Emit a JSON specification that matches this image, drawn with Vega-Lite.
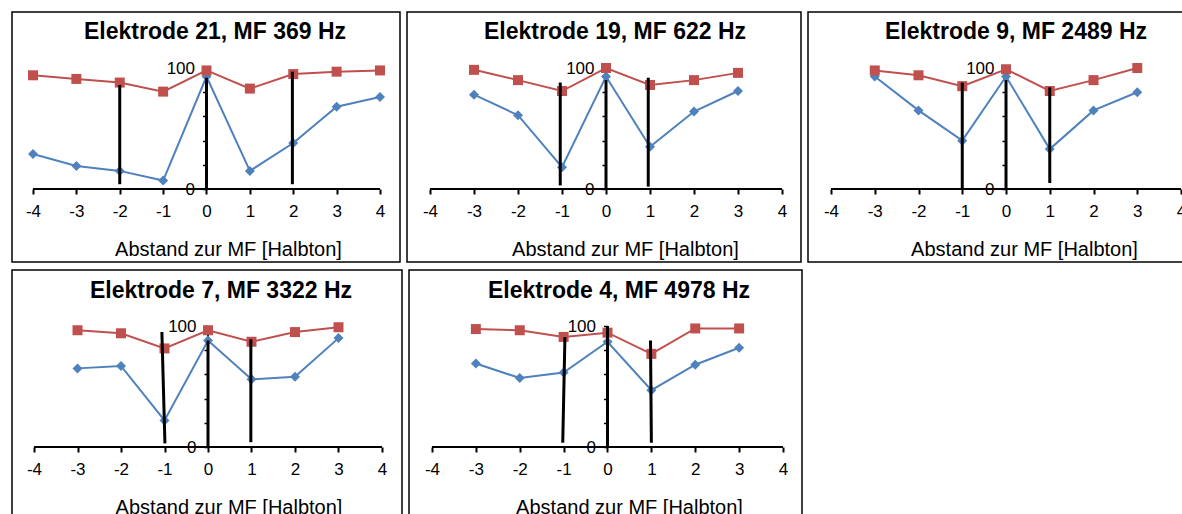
{
  "$schema": "https://vega.github.io/schema/vega-lite/v6.json",
  "padding": {"left": 11, "top": 11, "right": 0, "bottom": 0},
  "background": "white",
  "config": {
    "font": "Liberation Sans",
    "view": {"stroke": "#000", "strokeWidth": 1.5},
    "axis": {"labelFont": "Liberation Sans", "titleFont": "Liberation Sans", "labelColor": "#000", "titleColor": "#000", "grid": false, "domain": false, "labelFlush": false, "labelOverlap": false, "labelBound": false, "tickColor": "#000"},
    "title": {"font": "Liberation Sans", "fontSize": 23, "fontWeight": "bold", "color": "#000", "anchor": "middle", "baseline": "alphabetic"}
  },
  "datasets": {
    "pts": [
      {"panel": 1, "series": "Serie 1", "x": -4, "value": 29},
      {"panel": 1, "series": "Serie 1", "x": -3, "value": 19},
      {"panel": 1, "series": "Serie 1", "x": -2, "value": 15},
      {"panel": 1, "series": "Serie 1", "x": -1, "value": 7},
      {"panel": 1, "series": "Serie 1", "x": 0, "value": 93},
      {"panel": 1, "series": "Serie 1", "x": 1, "value": 15},
      {"panel": 1, "series": "Serie 1", "x": 2, "value": 38},
      {"panel": 1, "series": "Serie 1", "x": 3, "value": 68},
      {"panel": 1, "series": "Serie 1", "x": 4, "value": 76},
      {"panel": 1, "series": "Serie 2", "x": -4, "value": 94},
      {"panel": 1, "series": "Serie 2", "x": -3, "value": 91},
      {"panel": 1, "series": "Serie 2", "x": -2, "value": 88},
      {"panel": 1, "series": "Serie 2", "x": -1, "value": 80.5},
      {"panel": 1, "series": "Serie 2", "x": 0, "value": 98},
      {"panel": 1, "series": "Serie 2", "x": 1, "value": 83},
      {"panel": 1, "series": "Serie 2", "x": 2, "value": 95},
      {"panel": 1, "series": "Serie 2", "x": 3, "value": 97},
      {"panel": 1, "series": "Serie 2", "x": 4, "value": 98},
      {"panel": 2, "series": "Serie 1", "x": -3, "value": 78},
      {"panel": 2, "series": "Serie 1", "x": -2, "value": 61},
      {"panel": 2, "series": "Serie 1", "x": -1, "value": 18},
      {"panel": 2, "series": "Serie 1", "x": 0, "value": 93},
      {"panel": 2, "series": "Serie 1", "x": 1, "value": 35},
      {"panel": 2, "series": "Serie 1", "x": 2, "value": 64},
      {"panel": 2, "series": "Serie 1", "x": 3, "value": 81},
      {"panel": 2, "series": "Serie 2", "x": -3, "value": 98.5},
      {"panel": 2, "series": "Serie 2", "x": -2, "value": 90},
      {"panel": 2, "series": "Serie 2", "x": -1, "value": 81},
      {"panel": 2, "series": "Serie 2", "x": 0, "value": 100},
      {"panel": 2, "series": "Serie 2", "x": 1, "value": 86},
      {"panel": 2, "series": "Serie 2", "x": 2, "value": 90},
      {"panel": 2, "series": "Serie 2", "x": 3, "value": 96},
      {"panel": 3, "series": "Serie 1", "x": -3, "value": 93},
      {"panel": 3, "series": "Serie 1", "x": -2, "value": 65},
      {"panel": 3, "series": "Serie 1", "x": -1, "value": 40},
      {"panel": 3, "series": "Serie 1", "x": 0, "value": 93},
      {"panel": 3, "series": "Serie 1", "x": 1, "value": 33},
      {"panel": 3, "series": "Serie 1", "x": 2, "value": 65},
      {"panel": 3, "series": "Serie 1", "x": 3, "value": 80},
      {"panel": 3, "series": "Serie 2", "x": -3, "value": 98},
      {"panel": 3, "series": "Serie 2", "x": -2, "value": 94},
      {"panel": 3, "series": "Serie 2", "x": -1, "value": 85},
      {"panel": 3, "series": "Serie 2", "x": 0, "value": 99},
      {"panel": 3, "series": "Serie 2", "x": 1, "value": 81},
      {"panel": 3, "series": "Serie 2", "x": 2, "value": 90},
      {"panel": 3, "series": "Serie 2", "x": 3, "value": 100},
      {"panel": 4, "series": "Serie 1", "x": -3, "value": 65},
      {"panel": 4, "series": "Serie 1", "x": -2, "value": 67},
      {"panel": 4, "series": "Serie 1", "x": -1, "value": 22},
      {"panel": 4, "series": "Serie 1", "x": 0, "value": 88},
      {"panel": 4, "series": "Serie 1", "x": 1, "value": 56},
      {"panel": 4, "series": "Serie 1", "x": 2, "value": 58},
      {"panel": 4, "series": "Serie 1", "x": 3, "value": 90},
      {"panel": 4, "series": "Serie 2", "x": -3, "value": 96.5},
      {"panel": 4, "series": "Serie 2", "x": -2, "value": 94},
      {"panel": 4, "series": "Serie 2", "x": -1, "value": 81.5},
      {"panel": 4, "series": "Serie 2", "x": 0, "value": 96.5},
      {"panel": 4, "series": "Serie 2", "x": 1, "value": 87},
      {"panel": 4, "series": "Serie 2", "x": 2, "value": 95},
      {"panel": 4, "series": "Serie 2", "x": 3, "value": 99},
      {"panel": 5, "series": "Serie 1", "x": -3, "value": 69},
      {"panel": 5, "series": "Serie 1", "x": -2, "value": 57},
      {"panel": 5, "series": "Serie 1", "x": -1, "value": 61.5},
      {"panel": 5, "series": "Serie 1", "x": 0, "value": 87},
      {"panel": 5, "series": "Serie 1", "x": 1, "value": 47},
      {"panel": 5, "series": "Serie 1", "x": 2, "value": 68},
      {"panel": 5, "series": "Serie 1", "x": 3, "value": 82},
      {"panel": 5, "series": "Serie 2", "x": -3, "value": 97.5},
      {"panel": 5, "series": "Serie 2", "x": -2, "value": 96.5},
      {"panel": 5, "series": "Serie 2", "x": -1, "value": 91},
      {"panel": 5, "series": "Serie 2", "x": 0, "value": 94.5},
      {"panel": 5, "series": "Serie 2", "x": 1, "value": 77},
      {"panel": 5, "series": "Serie 2", "x": 2, "value": 98},
      {"panel": 5, "series": "Serie 2", "x": 3, "value": 98}
    ],
    "marks": [
      {"panel": 1, "x_top": -2, "x_bot": -2, "top": 86, "bottom": 4},
      {"panel": 1, "x_top": 0, "x_bot": 0, "top": 92, "bottom": 0},
      {"panel": 1, "x_top": 1.98, "x_bot": 1.98, "top": 97, "bottom": 4},
      {"panel": 2, "x_top": -1.04, "x_bot": -1.04, "top": 88, "bottom": 3},
      {"panel": 2, "x_top": 0, "x_bot": 0, "top": 90, "bottom": 0},
      {"panel": 2, "x_top": 0.96, "x_bot": 0.96, "top": 92, "bottom": 2},
      {"panel": 3, "x_top": -1, "x_bot": -1, "top": 88, "bottom": 0},
      {"panel": 3, "x_top": 0, "x_bot": 0, "top": 90, "bottom": 0},
      {"panel": 3, "x_top": 1, "x_bot": 1, "top": 84, "bottom": 5},
      {"panel": 4, "x_top": -1.06, "x_bot": -0.99, "top": 95, "bottom": 3},
      {"panel": 4, "x_top": 0, "x_bot": 0, "top": 88, "bottom": 0},
      {"panel": 4, "x_top": 0.985, "x_bot": 0.985, "top": 89, "bottom": 4},
      {"panel": 5, "x_top": -0.97, "x_bot": -1.02, "top": 91, "bottom": 3.5},
      {"panel": 5, "x_top": 0, "x_bot": 0, "top": 100, "bottom": 0},
      {"panel": 5, "x_top": 0.98, "x_bot": 1, "top": 88, "bottom": 3.5}
    ]
  },
  "vconcat": [
    {
      "spacing": 5,
      "hconcat": [
        {
          "width": 388, "height": 250,
          "title": {"text": "Elektrode 21, MF 369 Hz", "dx": 9, "offset": -32},
          "layer": [
            {"data": {"values": [{}]}, "mark": {"type": "rule", "color": "#000", "strokeWidth": 2},
             "encoding": {
               "x": {"datum": -4, "type": "quantitative", "scale": {"domain": [-4.484, 4.461], "nice": false, "zero": false},
                     "axis": {"orient": "bottom", "offset": -73, "values": [-4, -3, -2, -1, 0, 1, 2, 3, 4], "labelExpr": "toString(datum.value)", "tickSize": 5, "tickWidth": 2, "labelFontSize": 17, "labelPadding": 9, "title": "Abstand zur MF [Halbton]", "titleFontSize": 20, "titleFontWeight": "normal", "titleX": 216, "titleY": 66, "titleBaseline": "alphabetic"}},
               "x2": {"datum": 4},
               "y": {"datum": 0, "type": "quantitative", "scale": {"domain": [-60.3, 146.3], "nice": false, "zero": false},
                     "axis": {"orient": "left", "offset": -194.5, "values": [0, 20, 40, 60, 80, 100], "tickSize": 4, "tickWidth": 1.5, "labelFontSize": 17, "labelPadding": 8, "title": null, "labelExpr": "datum.value == 0 || datum.value == 100 ? datum.label : ''"}}}},
            {"data": {"values": [{}]}, "mark": {"type": "rule", "color": "#000", "strokeWidth": 2},
             "encoding": {"x": {"datum": 0, "type": "quantitative", "scale": {"domain": [-4.484, 4.461], "nice": false, "zero": false}}, "y": {"datum": 0, "type": "quantitative", "scale": {"domain": [-60.3, 146.3], "nice": false, "zero": false}}, "y2": {"datum": 100}}},
            {"data": {"name": "pts"}, "transform": [{"filter": "datum.panel == 1"}], "mark": {"type": "line", "strokeWidth": 2},
             "encoding": {
               "x": {"field": "x", "type": "quantitative", "scale": {"domain": [-4.484, 4.461], "nice": false, "zero": false}},
               "y": {"field": "value", "type": "quantitative", "scale": {"domain": [-60.3, 146.3], "nice": false, "zero": false}},
               "color": {"field": "series", "type": "nominal", "scale": {"domain": ["Serie 1", "Serie 2"], "range": ["#4F81BD", "#C0504D"]}, "legend": null}}},
            {"data": {"name": "pts"}, "transform": [{"filter": "datum.panel == 1"}], "mark": {"type": "point", "filled": true, "size": 100, "opacity": 1},
             "encoding": {
               "x": {"field": "x", "type": "quantitative", "scale": {"domain": [-4.484, 4.461], "nice": false, "zero": false}},
               "y": {"field": "value", "type": "quantitative", "scale": {"domain": [-60.3, 146.3], "nice": false, "zero": false}},
               "color": {"field": "series", "type": "nominal", "scale": {"domain": ["Serie 1", "Serie 2"], "range": ["#4F81BD", "#C0504D"]}, "legend": null},
               "shape": {"field": "series", "type": "nominal", "scale": {"domain": ["Serie 1", "Serie 2"], "range": ["diamond", "square"]}, "legend": null}}},
            {"data": {"name": "marks"}, "transform": [{"filter": "datum.panel == 1"}], "mark": {"type": "rule", "color": "#000", "strokeWidth": 3},
             "encoding": {
               "x": {"field": "x_top", "type": "quantitative", "scale": {"domain": [-4.484, 4.461], "nice": false, "zero": false}},
               "x2": {"field": "x_bot"},
               "y": {"field": "top", "type": "quantitative", "scale": {"domain": [-60.3, 146.3], "nice": false, "zero": false}},
               "y2": {"field": "bottom"}}}
          ]
        },
        {
          "width": 394, "height": 250,
          "title": {"text": "Elektrode 19, MF 622 Hz", "dx": 11, "offset": -32},
          "layer": [
            {"data": {"values": [{}]}, "mark": {"type": "rule", "color": "#000", "strokeWidth": 2},
             "encoding": {
               "x": {"datum": -4, "type": "quantitative", "scale": {"domain": [-4.523, 4.432], "nice": false, "zero": false},
                     "axis": {"orient": "bottom", "offset": -73, "values": [-4, -3, -2, -1, 0, 1, 2, 3, 4], "labelExpr": "toString(datum.value)", "tickSize": 5, "tickWidth": 2, "labelFontSize": 17, "labelPadding": 9, "title": "Abstand zur MF [Halbton]", "titleFontSize": 20, "titleFontWeight": "normal", "titleX": 218, "titleY": 66, "titleBaseline": "alphabetic"}},
               "x2": {"datum": 4},
               "y": {"datum": 0, "type": "quantitative", "scale": {"domain": [-60.3, 146.3], "nice": false, "zero": false},
                     "axis": {"orient": "left", "offset": -199, "values": [0, 20, 40, 60, 80, 100], "tickSize": 4, "tickWidth": 1.5, "labelFontSize": 17, "labelPadding": 8, "title": null, "labelExpr": "datum.value == 0 || datum.value == 100 ? datum.label : ''"}}}},
            {"data": {"values": [{}]}, "mark": {"type": "rule", "color": "#000", "strokeWidth": 2},
             "encoding": {"x": {"datum": 0, "type": "quantitative", "scale": {"domain": [-4.523, 4.432], "nice": false, "zero": false}}, "y": {"datum": 0, "type": "quantitative", "scale": {"domain": [-60.3, 146.3], "nice": false, "zero": false}}, "y2": {"datum": 100}}},
            {"data": {"name": "pts"}, "transform": [{"filter": "datum.panel == 2"}], "mark": {"type": "line", "strokeWidth": 2},
             "encoding": {
               "x": {"field": "x", "type": "quantitative", "scale": {"domain": [-4.523, 4.432], "nice": false, "zero": false}},
               "y": {"field": "value", "type": "quantitative", "scale": {"domain": [-60.3, 146.3], "nice": false, "zero": false}},
               "color": {"field": "series", "type": "nominal", "scale": {"domain": ["Serie 1", "Serie 2"], "range": ["#4F81BD", "#C0504D"]}, "legend": null}}},
            {"data": {"name": "pts"}, "transform": [{"filter": "datum.panel == 2"}], "mark": {"type": "point", "filled": true, "size": 100, "opacity": 1},
             "encoding": {
               "x": {"field": "x", "type": "quantitative", "scale": {"domain": [-4.523, 4.432], "nice": false, "zero": false}},
               "y": {"field": "value", "type": "quantitative", "scale": {"domain": [-60.3, 146.3], "nice": false, "zero": false}},
               "color": {"field": "series", "type": "nominal", "scale": {"domain": ["Serie 1", "Serie 2"], "range": ["#4F81BD", "#C0504D"]}, "legend": null},
               "shape": {"field": "series", "type": "nominal", "scale": {"domain": ["Serie 1", "Serie 2"], "range": ["diamond", "square"]}, "legend": null}}},
            {"data": {"name": "marks"}, "transform": [{"filter": "datum.panel == 2"}], "mark": {"type": "rule", "color": "#000", "strokeWidth": 3},
             "encoding": {
               "x": {"field": "x_top", "type": "quantitative", "scale": {"domain": [-4.523, 4.432], "nice": false, "zero": false}},
               "x2": {"field": "x_bot"},
               "y": {"field": "top", "type": "quantitative", "scale": {"domain": [-60.3, 146.3], "nice": false, "zero": false}},
               "y2": {"field": "bottom"}}}
          ]
        },
        {
          "width": 378, "height": 250,
          "title": {"text": "Elektrode 9, MF 2489 Hz", "dx": 19, "offset": -32},
          "layer": [
            {"data": {"values": [{}]}, "mark": {"type": "rule", "color": "#000", "strokeWidth": 2},
             "encoding": {
               "x": {"datum": -4, "type": "quantitative", "scale": {"domain": [-4.526, 4.114], "nice": false, "zero": false},
                     "axis": {"orient": "bottom", "offset": -73, "values": [-4, -3, -2, -1, 0, 1, 2, 3, 4], "labelExpr": "toString(datum.value)", "tickSize": 5, "tickWidth": 2, "labelFontSize": 17, "labelPadding": 9, "title": "Abstand zur MF [Halbton]", "titleFontSize": 20, "titleFontWeight": "normal", "titleX": 216, "titleY": 66, "titleBaseline": "alphabetic"}},
               "x2": {"datum": 4},
               "y": {"datum": 0, "type": "quantitative", "scale": {"domain": [-60.3, 146.3], "nice": false, "zero": false},
                     "axis": {"orient": "left", "offset": -198, "values": [0, 20, 40, 60, 80, 100], "tickSize": 4, "tickWidth": 1.5, "labelFontSize": 17, "labelPadding": 8, "title": null, "labelExpr": "datum.value == 0 || datum.value == 100 ? datum.label : ''"}}}},
            {"data": {"values": [{}]}, "mark": {"type": "rule", "color": "#000", "strokeWidth": 2},
             "encoding": {"x": {"datum": 0, "type": "quantitative", "scale": {"domain": [-4.526, 4.114], "nice": false, "zero": false}}, "y": {"datum": 0, "type": "quantitative", "scale": {"domain": [-60.3, 146.3], "nice": false, "zero": false}}, "y2": {"datum": 100}}},
            {"data": {"name": "pts"}, "transform": [{"filter": "datum.panel == 3"}], "mark": {"type": "line", "strokeWidth": 2},
             "encoding": {
               "x": {"field": "x", "type": "quantitative", "scale": {"domain": [-4.526, 4.114], "nice": false, "zero": false}},
               "y": {"field": "value", "type": "quantitative", "scale": {"domain": [-60.3, 146.3], "nice": false, "zero": false}},
               "color": {"field": "series", "type": "nominal", "scale": {"domain": ["Serie 1", "Serie 2"], "range": ["#4F81BD", "#C0504D"]}, "legend": null}}},
            {"data": {"name": "pts"}, "transform": [{"filter": "datum.panel == 3"}], "mark": {"type": "point", "filled": true, "size": 100, "opacity": 1},
             "encoding": {
               "x": {"field": "x", "type": "quantitative", "scale": {"domain": [-4.526, 4.114], "nice": false, "zero": false}},
               "y": {"field": "value", "type": "quantitative", "scale": {"domain": [-60.3, 146.3], "nice": false, "zero": false}},
               "color": {"field": "series", "type": "nominal", "scale": {"domain": ["Serie 1", "Serie 2"], "range": ["#4F81BD", "#C0504D"]}, "legend": null},
               "shape": {"field": "series", "type": "nominal", "scale": {"domain": ["Serie 1", "Serie 2"], "range": ["diamond", "square"]}, "legend": null}}},
            {"data": {"name": "marks"}, "transform": [{"filter": "datum.panel == 3"}], "mark": {"type": "rule", "color": "#000", "strokeWidth": 3},
             "encoding": {
               "x": {"field": "x_top", "type": "quantitative", "scale": {"domain": [-4.526, 4.114], "nice": false, "zero": false}},
               "x2": {"field": "x_bot"},
               "y": {"field": "top", "type": "quantitative", "scale": {"domain": [-60.3, 146.3], "nice": false, "zero": false}},
               "y2": {"field": "bottom"}}}
          ]
        }
      ]
    },
    {
      "spacing": 5,
      "hconcat": [
        {
          "width": 390, "height": 246,
          "title": {"text": "Elektrode 7, MF 3322 Hz", "dx": 14, "offset": -33},
          "layer": [
            {"data": {"values": [{}]}, "mark": {"type": "rule", "color": "#000", "strokeWidth": 2},
             "encoding": {
               "x": {"datum": -4, "type": "quantitative", "scale": {"domain": [-4.506, 4.46], "nice": false, "zero": false},
                     "axis": {"orient": "bottom", "offset": -69, "values": [-4, -3, -2, -1, 0, 1, 2, 3, 4], "labelExpr": "toString(datum.value)", "tickSize": 5, "tickWidth": 2, "labelFontSize": 17, "labelPadding": 9, "title": "Abstand zur MF [Halbton]", "titleFontSize": 20, "titleFontWeight": "normal", "titleX": 216.5, "titleY": 66, "titleBaseline": "alphabetic"}},
               "x2": {"datum": 4},
               "y": {"datum": 0, "type": "quantitative", "scale": {"domain": [-57, 146.3], "nice": false, "zero": false},
                     "axis": {"orient": "left", "offset": -196, "values": [0, 20, 40, 60, 80, 100], "tickSize": 4, "tickWidth": 1.5, "labelFontSize": 17, "labelPadding": 8, "title": null, "labelExpr": "datum.value == 0 || datum.value == 100 ? datum.label : ''"}}}},
            {"data": {"values": [{}]}, "mark": {"type": "rule", "color": "#000", "strokeWidth": 2},
             "encoding": {"x": {"datum": 0, "type": "quantitative", "scale": {"domain": [-4.506, 4.46], "nice": false, "zero": false}}, "y": {"datum": 0, "type": "quantitative", "scale": {"domain": [-57, 146.3], "nice": false, "zero": false}}, "y2": {"datum": 100}}},
            {"data": {"name": "pts"}, "transform": [{"filter": "datum.panel == 4"}], "mark": {"type": "line", "strokeWidth": 2},
             "encoding": {
               "x": {"field": "x", "type": "quantitative", "scale": {"domain": [-4.506, 4.46], "nice": false, "zero": false}},
               "y": {"field": "value", "type": "quantitative", "scale": {"domain": [-57, 146.3], "nice": false, "zero": false}},
               "color": {"field": "series", "type": "nominal", "scale": {"domain": ["Serie 1", "Serie 2"], "range": ["#4F81BD", "#C0504D"]}, "legend": null}}},
            {"data": {"name": "pts"}, "transform": [{"filter": "datum.panel == 4"}], "mark": {"type": "point", "filled": true, "size": 100, "opacity": 1},
             "encoding": {
               "x": {"field": "x", "type": "quantitative", "scale": {"domain": [-4.506, 4.46], "nice": false, "zero": false}},
               "y": {"field": "value", "type": "quantitative", "scale": {"domain": [-57, 146.3], "nice": false, "zero": false}},
               "color": {"field": "series", "type": "nominal", "scale": {"domain": ["Serie 1", "Serie 2"], "range": ["#4F81BD", "#C0504D"]}, "legend": null},
               "shape": {"field": "series", "type": "nominal", "scale": {"domain": ["Serie 1", "Serie 2"], "range": ["diamond", "square"]}, "legend": null}}},
            {"data": {"name": "marks"}, "transform": [{"filter": "datum.panel == 4"}], "mark": {"type": "rule", "color": "#000", "strokeWidth": 3},
             "encoding": {
               "x": {"field": "x_top", "type": "quantitative", "scale": {"domain": [-4.506, 4.46], "nice": false, "zero": false}},
               "x2": {"field": "x_bot"},
               "y": {"field": "top", "type": "quantitative", "scale": {"domain": [-57, 146.3], "nice": false, "zero": false}},
               "y2": {"field": "bottom"}}}
          ]
        },
        {
          "width": 393, "height": 246,
          "title": {"text": "Elektrode 4, MF 4978 Hz", "dx": 13.5, "offset": -33},
          "layer": [
            {"data": {"values": [{}]}, "mark": {"type": "rule", "color": "#000", "strokeWidth": 2},
             "encoding": {
               "x": {"datum": -4, "type": "quantitative", "scale": {"domain": [-4.524, 4.433], "nice": false, "zero": false},
                     "axis": {"orient": "bottom", "offset": -69, "values": [-4, -3, -2, -1, 0, 1, 2, 3, 4], "labelExpr": "toString(datum.value)", "tickSize": 5, "tickWidth": 2, "labelFontSize": 17, "labelPadding": 9, "title": "Abstand zur MF [Halbton]", "titleFontSize": 20, "titleFontWeight": "normal", "titleX": 220, "titleY": 66, "titleBaseline": "alphabetic"}},
               "x2": {"datum": 4},
               "y": {"datum": 0, "type": "quantitative", "scale": {"domain": [-57, 146.3], "nice": false, "zero": false},
                     "axis": {"orient": "left", "offset": -198.5, "values": [0, 20, 40, 60, 80, 100], "tickSize": 4, "tickWidth": 1.5, "labelFontSize": 17, "labelPadding": 8, "title": null, "labelExpr": "datum.value == 0 || datum.value == 100 ? datum.label : ''"}}}},
            {"data": {"values": [{}]}, "mark": {"type": "rule", "color": "#000", "strokeWidth": 2},
             "encoding": {"x": {"datum": 0, "type": "quantitative", "scale": {"domain": [-4.524, 4.433], "nice": false, "zero": false}}, "y": {"datum": 0, "type": "quantitative", "scale": {"domain": [-57, 146.3], "nice": false, "zero": false}}, "y2": {"datum": 100}}},
            {"data": {"name": "pts"}, "transform": [{"filter": "datum.panel == 5"}], "mark": {"type": "line", "strokeWidth": 2},
             "encoding": {
               "x": {"field": "x", "type": "quantitative", "scale": {"domain": [-4.524, 4.433], "nice": false, "zero": false}},
               "y": {"field": "value", "type": "quantitative", "scale": {"domain": [-57, 146.3], "nice": false, "zero": false}},
               "color": {"field": "series", "type": "nominal", "scale": {"domain": ["Serie 1", "Serie 2"], "range": ["#4F81BD", "#C0504D"]}, "legend": null}}},
            {"data": {"name": "pts"}, "transform": [{"filter": "datum.panel == 5"}], "mark": {"type": "point", "filled": true, "size": 100, "opacity": 1},
             "encoding": {
               "x": {"field": "x", "type": "quantitative", "scale": {"domain": [-4.524, 4.433], "nice": false, "zero": false}},
               "y": {"field": "value", "type": "quantitative", "scale": {"domain": [-57, 146.3], "nice": false, "zero": false}},
               "color": {"field": "series", "type": "nominal", "scale": {"domain": ["Serie 1", "Serie 2"], "range": ["#4F81BD", "#C0504D"]}, "legend": null},
               "shape": {"field": "series", "type": "nominal", "scale": {"domain": ["Serie 1", "Serie 2"], "range": ["diamond", "square"]}, "legend": null}}},
            {"data": {"name": "marks"}, "transform": [{"filter": "datum.panel == 5"}], "mark": {"type": "rule", "color": "#000", "strokeWidth": 3},
             "encoding": {
               "x": {"field": "x_top", "type": "quantitative", "scale": {"domain": [-4.524, 4.433], "nice": false, "zero": false}},
               "x2": {"field": "x_bot"},
               "y": {"field": "top", "type": "quantitative", "scale": {"domain": [-57, 146.3], "nice": false, "zero": false}},
               "y2": {"field": "bottom"}}}
          ]
        }
      ]
    }
  ],
  "spacing": 6
}
